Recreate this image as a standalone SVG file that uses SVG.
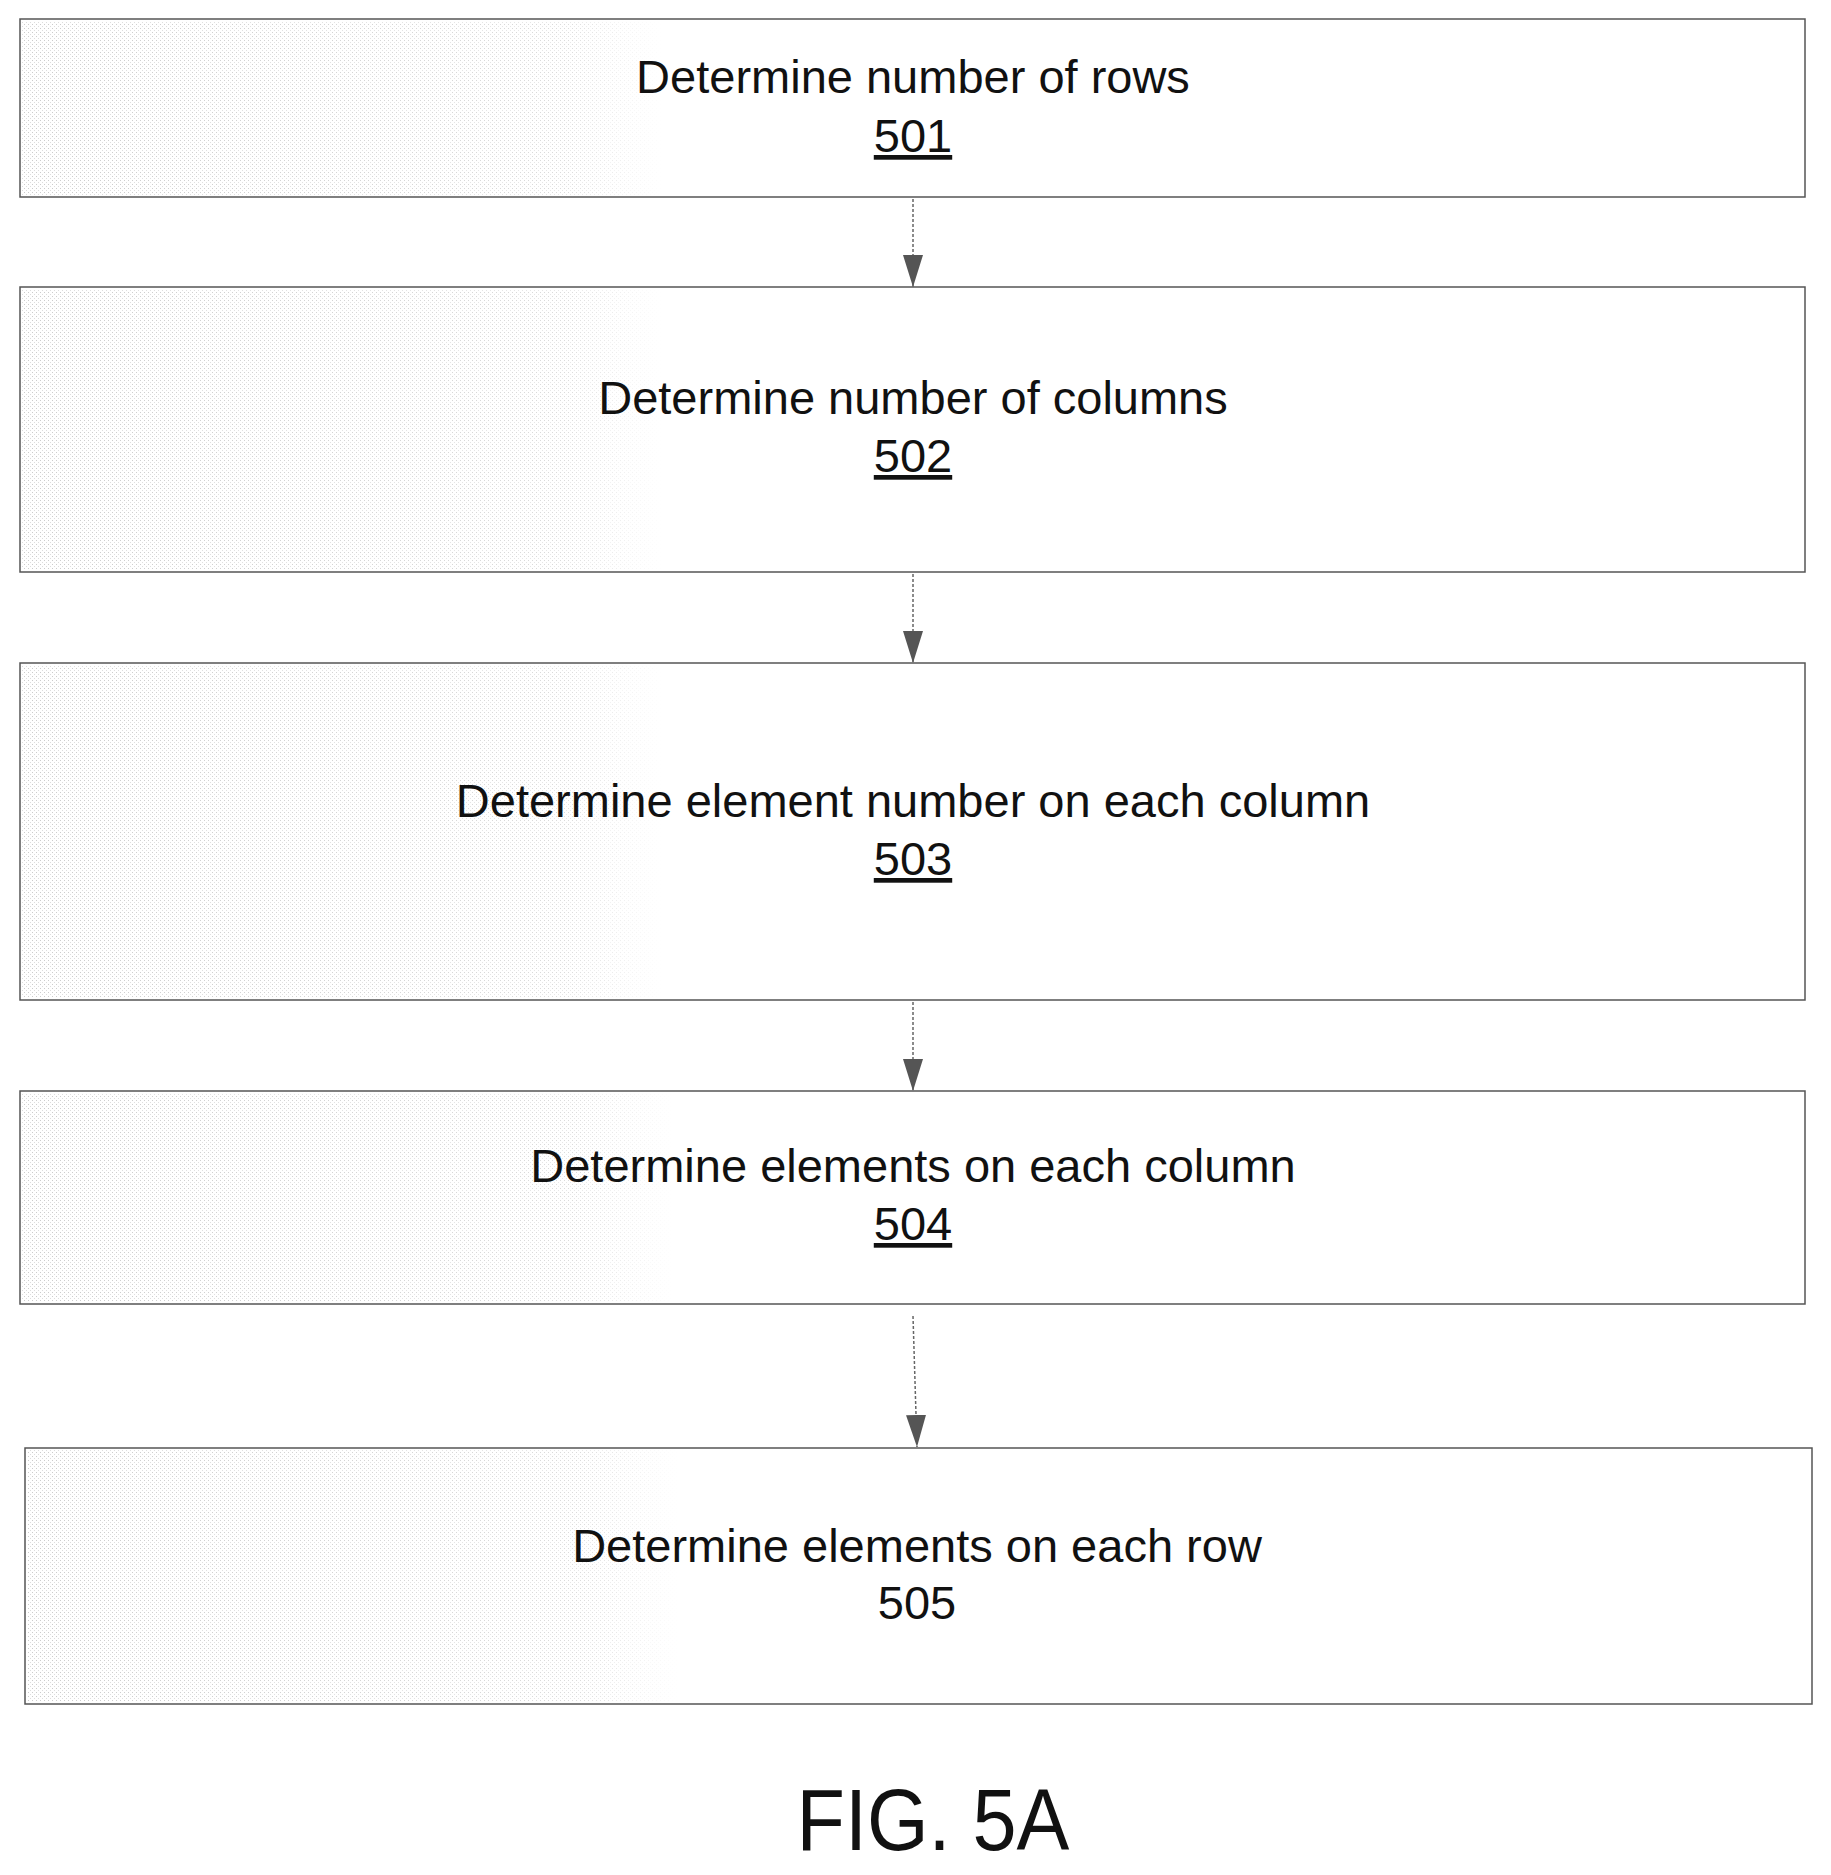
<svg xmlns="http://www.w3.org/2000/svg" width="1831" height="1875" viewBox="0 0 1831 1875">
<defs>
<style>
.box{fill:none;stroke:#555;stroke-width:1.5}
.t{font-family:"Liberation Sans",Arial,sans-serif;font-size:47px;fill:#111;text-anchor:middle}
.n{text-decoration:underline}
.c{stroke:#666;stroke-width:1.5;stroke-dasharray:3 2;fill:none}
</style>
<pattern id="dots" width="4" height="4" patternUnits="userSpaceOnUse"><rect x="0" y="0" width="1" height="1" fill="#999"/><rect x="2" y="2" width="1" height="1" fill="#bbb"/></pattern>
<linearGradient id="fade" x1="0" x2="1" y1="0" y2="0"><stop offset="0" stop-color="#fff" stop-opacity="0"/><stop offset="0.85" stop-color="#fff" stop-opacity="0.3"/><stop offset="1" stop-color="#fff" stop-opacity="1"/></linearGradient>
<marker id="ah" markerWidth="32" markerHeight="20" refX="32" refY="10" orient="auto" markerUnits="userSpaceOnUse" viewBox="0 0 32 20"><path d="M0,0 L32,10 L0,20 Z" fill="#555"/></marker>
</defs>
<rect width="1831" height="1875" fill="#fff"/>
<g id="n501"><rect x="22" y="21" width="640" height="174" fill="url(#dots)" opacity="0.5"/><rect x="22" y="21" width="640" height="174" fill="url(#fade)"/><rect class="box" x="20" y="19" width="1785" height="178"/><text class="t" x="913" y="93">Determine number of rows</text><text class="t n" x="913" y="152">501</text></g>
<g id="n502"><rect x="22" y="289" width="640" height="281" fill="url(#dots)" opacity="0.5"/><rect x="22" y="289" width="640" height="281" fill="url(#fade)"/><rect class="box" x="20" y="287" width="1785" height="285"/><text class="t" x="913" y="414">Determine number of columns</text><text class="t n" x="913" y="472">502</text></g>
<g id="n503"><rect x="22" y="665" width="640" height="333" fill="url(#dots)" opacity="0.5"/><rect x="22" y="665" width="640" height="333" fill="url(#fade)"/><rect class="box" x="20" y="663" width="1785" height="337"/><text class="t" x="913" y="817">Determine element number on each column</text><text class="t n" x="913" y="875">503</text></g>
<g id="n504"><rect x="22" y="1093" width="650" height="209" fill="url(#dots)" opacity="0.5"/><rect x="22" y="1093" width="650" height="209" fill="url(#fade)"/><rect class="box" x="20" y="1091" width="1785" height="213"/><text class="t" x="913" y="1182">Determine elements on each column</text><text class="t n" x="913" y="1240">504</text></g>
<g id="n505"><rect x="27" y="1450" width="650" height="252" fill="url(#dots)" opacity="0.5"/><rect x="27" y="1450" width="650" height="252" fill="url(#fade)"/><rect class="box" x="25" y="1448" width="1787" height="256"/><text class="t" x="917" y="1562">Determine elements on each row</text><text class="t" x="917" y="1619">505</text></g>
<g id="connectors">
<path class="c" d="M913,199 L913,287" marker-end="url(#ah)"/>
<path class="c" d="M913,574 L913,663" marker-end="url(#ah)"/>
<path class="c" d="M913,1002 L913,1091" marker-end="url(#ah)"/>
<path class="c" d="M913,1316 L917,1447" marker-end="url(#ah)"/>
</g>
<text x="933" y="1850" style="font-family:'Liberation Sans',Arial,sans-serif;font-size:88px;fill:#111;text-anchor:middle" transform="translate(933 0) scale(0.9 1) translate(-933 0)">FIG. 5A</text>
</svg>
